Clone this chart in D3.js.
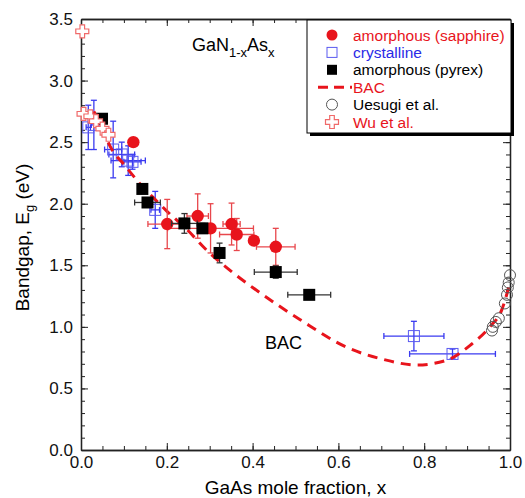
<!DOCTYPE html>
<html>
<head>
<meta charset="utf-8">
<script src="https://cdn.jsdelivr.net/npm/d3@7"></script>
<style>
  body { margin: 0; background: #fff; }
  svg text { font-family: "Liberation Sans", Arial, sans-serif; }
</style>
</head>
<body>
<svg id="chart" width="525" height="498"></svg>
<script>
// GaN1-xAsx bandgap vs composition
const sapphire = [
  { x: 0.122, e: 2.50, xe: 0, ee: 0 },
  { x: 0.201, e: 1.835, xe: 0.045, ee: 0.2 },
  { x: 0.272, e: 1.90, xe: 0.025, ee: 0.18 },
  { x: 0.302, e: 1.80, xe: 0.1, ee: 0.2 },
  { x: 0.351, e: 1.835, xe: 0.02, ee: 0.17 },
  { x: 0.363, e: 1.75, xe: 0.04, ee: 0.13 },
  { x: 0.403, e: 1.70, xe: 0, ee: 0 },
  { x: 0.454, e: 1.65, xe: 0.045, ee: 0.15 }
];

const crystalline = [
  { x: 0.017, e: 2.62, xe: 0.005, ee: 0.18 },
  { x: 0.030, e: 2.64, xe: 0.006, ee: 0.2 },
  { x: 0.075, e: 2.44, xe: 0.02, ee: 0.23 },
  { x: 0.095, e: 2.40, xe: 0.03, ee: 0.1 },
  { x: 0.110, e: 2.35, xe: 0.04, ee: 0.12 },
  { x: 0.120, e: 2.34, xe: 0.02, ee: 0.06 },
  { x: 0.173, e: 1.95, xe: 0.01, ee: 0.15 },
  { x: 0.776, e: 0.925, xe: 0.07, ee: 0.12 },
  { x: 0.866, e: 0.78, xe: 0.1, ee: 0.04 }
];

const pyrex = [
  { x: 0.049, e: 2.69, xe: 0, ee: 0 },
  { x: 0.143, e: 2.12, xe: 0, ee: 0 },
  { x: 0.155, e: 2.01, xe: 0.03, ee: 0 },
  { x: 0.241, e: 1.84, xe: 0.03, ee: 0.08 },
  { x: 0.283, e: 1.80, xe: 0, ee: 0.04 },
  { x: 0.323, e: 1.60, xe: 0, ee: 0.08 },
  { x: 0.454, e: 1.445, xe: 0.05, ee: 0.05 },
  { x: 0.532, e: 1.26, xe: 0.05, ee: 0.03 }
];

const bac = [
  [0.03, 2.75], [0.05, 2.60], [0.072, 2.44], [0.10, 2.32], [0.133, 2.18],
  [0.177, 2.02], [0.20, 1.94], [0.25, 1.78], [0.285, 1.65], [0.354, 1.44],
  [0.40, 1.32], [0.51, 1.06], [0.622, 0.83], [0.70, 0.74], [0.783, 0.69],
  [0.853, 0.73], [0.907, 0.85], [0.953, 1.00], [0.981, 1.14], [1.0, 1.36]
];

const uesugi = [
  [1.0, 1.42], [0.997, 1.36], [0.995, 1.32], [0.993, 1.26], [0.988, 1.19],
  [0.974, 1.07], [0.967, 1.04], [0.960, 1.00], [0.958, 0.97]
];

const wu = [
  [0.003, 3.40], [0.006, 2.73], [0.022, 2.71], [0.035, 2.67], [0.050, 2.61], [0.064, 2.56]
];

const xTicks = [0, 0.2, 0.4, 0.6, 0.8, 1.0];
const yTicks = [0, 0.5, 1.0, 1.5, 2.0, 2.5, 3.0, 3.5];

const legendItems = [
  { label: "amorphous (sapphire)", color: "#e8141c", kind: "dot" },
  { label: "crystalline", color: "#2a2ae6", kind: "osq" },
  { label: "amorphous (pyrex)", color: "#000", kind: "sq" },
  { label: "BAC", color: "#e8141c", kind: "dash" },
  { label: "Uesugi et al.", color: "#000", kind: "ocirc" },
  { label: "Wu et al.", color: "#e8141c", kind: "cross" }
];

const svg = d3.select("#chart");
const pLeft = 81, pRight = 510, pTop = 19, pBottom = 450;

const x = d3.scaleLinear().domain([0, 1]).range([pLeft, pRight]);
const y = d3.scaleLinear().domain([0, 3.5]).range([pBottom, pTop]);

const red = "#e8141c", redBar = "#e8474c", blue = "#3a3af0", pink = "#f06a6a";

// axes, ticks inward
const minorX = d3.range(0, 1.0001, 0.05);
const minorY = d3.range(0, 3.5001, 0.1);

svg.append("g").attr("transform", `translate(0,${pBottom})`)
  .call(d3.axisBottom(x).tickValues(minorX).tickFormat("").tickSize(-4).tickSizeOuter(0));
svg.append("g").attr("transform", `translate(0,${pBottom})`)
  .call(d3.axisBottom(x).tickValues(xTicks).tickFormat(d3.format(".1f")).tickSize(-7).tickSizeOuter(0).tickPadding(6));
svg.append("g").attr("transform", `translate(0,${pTop})`)
  .call(d3.axisTop(x).tickValues(minorX).tickFormat("").tickSize(-4).tickSizeOuter(0));
svg.append("g").attr("transform", `translate(0,${pTop})`)
  .call(d3.axisTop(x).tickValues(xTicks).tickFormat("").tickSize(-7).tickSizeOuter(0));

svg.append("g").attr("transform", `translate(${pLeft},0)`)
  .call(d3.axisLeft(y).tickValues(minorY).tickFormat("").tickSize(-4).tickSizeOuter(0));
svg.append("g").attr("transform", `translate(${pLeft},0)`)
  .call(d3.axisLeft(y).tickValues(yTicks).tickFormat(d3.format(".1f")).tickSize(-7).tickSizeOuter(0).tickPadding(8));
svg.append("g").attr("transform", `translate(${pRight},0)`)
  .call(d3.axisRight(y).tickValues(minorY).tickFormat("").tickSize(-4).tickSizeOuter(0));
svg.append("g").attr("transform", `translate(${pRight},0)`)
  .call(d3.axisRight(y).tickValues(yTicks).tickFormat("").tickSize(-7).tickSizeOuter(0));

svg.selectAll(".tick text").attr("font-size", "17px").attr("fill", "#111")
  .style("font-family", "'Liberation Sans', Arial, sans-serif");
svg.selectAll(".domain").attr("stroke", "#222").attr("stroke-width", 1.3);
svg.selectAll(".tick line").attr("stroke", "#222");

svg.append("text")
  .attr("x", (pLeft + pRight) / 2).attr("y", 494)
  .attr("text-anchor", "middle").attr("font-size", "19px")
  .text("GaAs mole fraction, x");

const yl = svg.append("text")
  .attr("transform", `translate(29,${(pTop + pBottom) / 2 + 3}) rotate(-90)`)
  .attr("text-anchor", "middle").attr("font-size", "19px");
yl.append("tspan").text("Bandgap, E");
yl.append("tspan").attr("font-size", "13px").attr("dy", 5).text("g");
yl.append("tspan").attr("dy", -5).text(" (eV)");

// error bars
function errorBars(data, color) {
  const g = svg.append("g").attr("stroke", color).attr("stroke-width", 1.3).attr("fill", "none");
  data.forEach(d => {
    if (d.xe > 0) {
      g.append("line").attr("x1", x(d.x - d.xe)).attr("x2", x(d.x + d.xe)).attr("y1", y(d.e)).attr("y2", y(d.e));
      [d.x - d.xe, d.x + d.xe].forEach(v =>
        g.append("line").attr("x1", x(v)).attr("x2", x(v)).attr("y1", y(d.e) - 3).attr("y2", y(d.e) + 3));
    }
    if (d.ee > 0) {
      g.append("line").attr("x1", x(d.x)).attr("x2", x(d.x)).attr("y1", y(d.e - d.ee)).attr("y2", y(d.e + d.ee));
      [d.e - d.ee, d.e + d.ee].forEach(v =>
        g.append("line").attr("x1", x(d.x) - 3).attr("x2", x(d.x) + 3).attr("y1", y(v)).attr("y2", y(v)));
    }
  });
}

errorBars(crystalline, blue);
svg.append("g").selectAll("rect").data(crystalline).enter().append("rect")
  .attr("x", d => x(d.x) - 5.5).attr("y", d => y(d.e) - 5.5)
  .attr("width", 11).attr("height", 11)
  .attr("fill", "none").attr("stroke", "#5a5af0").attr("stroke-width", 1);

// BAC curve
svg.append("path")
  .datum(bac)
  .attr("d", d3.line().x(d => x(d[0])).y(d => y(d[1])).curve(d3.curveMonotoneX))
  .attr("fill", "none").attr("stroke", red).attr("stroke-width", 3)
  .attr("stroke-dasharray", "10,7");

errorBars(sapphire, redBar);
svg.append("g").selectAll("circle").data(sapphire).enter().append("circle")
  .attr("cx", d => x(d.x)).attr("cy", d => y(d.e)).attr("r", 6.2).attr("fill", red);

errorBars(pyrex, "#333");
svg.append("g").selectAll("rect").data(pyrex).enter().append("rect")
  .attr("x", d => x(d.x) - 6).attr("y", d => y(d.e) - 6)
  .attr("width", 12).attr("height", 12).attr("fill", "#000");

svg.append("g").selectAll("circle").data(uesugi).enter().append("circle")
  .attr("cx", d => x(d[0])).attr("cy", d => y(d[1])).attr("r", 5.5)
  .attr("fill", "none").attr("stroke", "#555").attr("stroke-width", 1);

const crossPath = "M-2.3,-6.5H2.3V-2.3H6.5V2.3H2.3V6.5H-2.3V2.3H-6.5V-2.3H-2.3Z";
svg.append("g").selectAll("path").data(wu).enter().append("path")
  .attr("transform", d => `translate(${x(d[0])},${y(d[1])})`)
  .attr("d", crossPath).attr("fill", "#fff").attr("stroke", pink).attr("stroke-width", 1.2);

// title and BAC label
const title = svg.append("text").attr("x", 192).attr("y", 51).attr("font-size", "18px");
title.append("tspan").text("GaN");
title.append("tspan").attr("font-size", "13px").attr("dy", 6).text("1-x");
title.append("tspan").attr("dy", -6).text("As");
title.append("tspan").attr("font-size", "13px").attr("dy", 6).text("x");

svg.append("text").attr("x", 265).attr("y", 349).attr("font-size", "18px").text("BAC");

// legend
const lg = svg.append("g").attr("transform", "translate(307,20)");
lg.append("rect").attr("x", 3).attr("y", 3).attr("width", 204).attr("height", 113).attr("fill", "#000");
lg.append("rect").attr("width", 204).attr("height", 113).attr("fill", "#fff").attr("stroke", "#000").attr("stroke-width", 1);

legendItems.forEach((item, i) => {
  const row = lg.append("g").attr("transform", `translate(0,${15 + i * 17.4})`);
  const sx = 25;
  if (item.kind === "dot") row.append("circle").attr("cx", sx).attr("cy", 0).attr("r", 5.5).attr("fill", item.color);
  if (item.kind === "osq") row.append("rect").attr("x", sx - 5).attr("y", -5).attr("width", 10).attr("height", 10)
    .attr("fill", "none").attr("stroke", "#5a5af0");
  if (item.kind === "sq") row.append("rect").attr("x", sx - 5).attr("y", -5).attr("width", 10).attr("height", 10).attr("fill", "#000");
  if (item.kind === "dash") row.append("line").attr("x1", sx - 14).attr("x2", sx + 20).attr("y1", 0).attr("y2", 0)
    .attr("stroke", item.color).attr("stroke-width", 3).attr("stroke-dasharray", "10,6");
  if (item.kind === "ocirc") row.append("circle").attr("cx", sx).attr("cy", 0).attr("r", 5.5)
    .attr("fill", "none").attr("stroke", "#555");
  if (item.kind === "cross") row.append("path").attr("transform", `translate(${sx},0)`).attr("d", crossPath)
    .attr("fill", "#fff").attr("stroke", pink).attr("stroke-width", 1.2);
  row.append("text").attr("x", 46).attr("y", 5.5).attr("font-size", "15.5px")
    .attr("fill", item.color === "#000" ? "#000" : (item.kind === "osq" ? "#2a2ae6" : item.color))
    .text(item.label);
});
</script>
</body>
</html>
